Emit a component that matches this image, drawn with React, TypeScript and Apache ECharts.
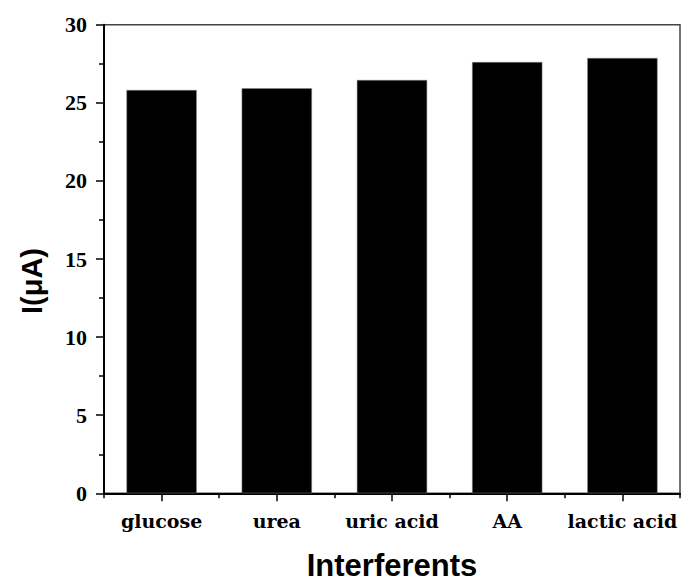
import React, { useEffect, useRef } from "react";
import * as echarts from "echarts";

const categories = ["glucose", "urea", "uric acid", "AA", "lactic acid"];
const currents = [25.82, 25.93, 26.46, 27.61, 27.87];
const yTicks = { min: 0, max: 30, interval: 5 };
const xTitle = "Interferents";
const yTitle = "I(μA)";

export default function App() {
  const ref = useRef<HTMLDivElement>(null);
  useEffect(() => {
    if (!ref.current) return;
    const chart = echarts.init(ref.current, null, { renderer: "svg" });
    chart.setOption({
      animation: false,
      backgroundColor: "#ffffff",
      grid: {
        left: 104,
        right: 1,
        top: 24.7,
        bottom: 89.7,
        show: true,
        borderColor: "#444",
        borderWidth: 1.5,
        backgroundColor: "transparent",
      },
      xAxis: [
        {
          type: "category",
          data: categories,
          position: "bottom",
          axisLine: { show: true, lineStyle: { color: "#000", width: 2 } },
          axisTick: { show: true, alignWithLabel: true, length: 8, lineStyle: { color: "#000", width: 1.5 } },
          axisLabel: {
            color: "#000",
            fontFamily: "DejaVu Serif",
            fontWeight: "bold",
            fontSize: 19,
            margin: 18,
            interval: 0,
          },
          splitLine: { show: false },
        },
        {
          type: "category",
          data: categories,
          position: "bottom",
          axisLine: { show: false },
          axisTick: { show: true, alignWithLabel: false, length: 5, lineStyle: { color: "#000", width: 1.5 } },
          axisLabel: { show: false },
          splitLine: { show: false },
        },
      ],
      yAxis: {
        type: "value",
        min: yTicks.min,
        max: yTicks.max,
        interval: yTicks.interval,
        axisLine: { show: true, lineStyle: { color: "#000", width: 2 } },
        axisTick: { show: true, length: 8, lineStyle: { color: "#000", width: 1.5 } },
        minorTick: { show: true, splitNumber: 2, length: 5, lineStyle: { color: "#000", width: 1.5 } },
        axisLabel: {
          color: "#000",
          fontFamily: "Liberation Serif",
          fontWeight: "bold",
          fontSize: 22,
          margin: 17,
        },
        splitLine: { show: false },
      },
      series: [
        {
          type: "bar",
          data: currents,
          barCategoryGap: "39%",
          itemStyle: { color: "#000", borderColor: "#888", borderWidth: 0.5 },
        },
      ],
      graphic: [
        {
          type: "text",
          x: 32,
          y: 281,
          rotation: Math.PI / 2,
          style: {
            text: yTitle,
            font: "bold 29px 'Liberation Sans', Arial, sans-serif",
            fill: "#000",
            align: "center",
            verticalAlign: "middle",
          },
        },
        {
          type: "text",
          x: 392,
          y: 565,
          style: {
            text: xTitle,
            font: "bold 31px 'Liberation Sans', Arial, sans-serif",
            fill: "#000",
            align: "center",
            verticalAlign: "middle",
          },
        },
      ],
    });
    return () => chart.dispose();
  }, []);
  return (
    <div
      ref={ref}
      style={{ position: "fixed", left: 0, top: 0, width: 681, height: 583, background: "#fff" }}
    />
  );
}
